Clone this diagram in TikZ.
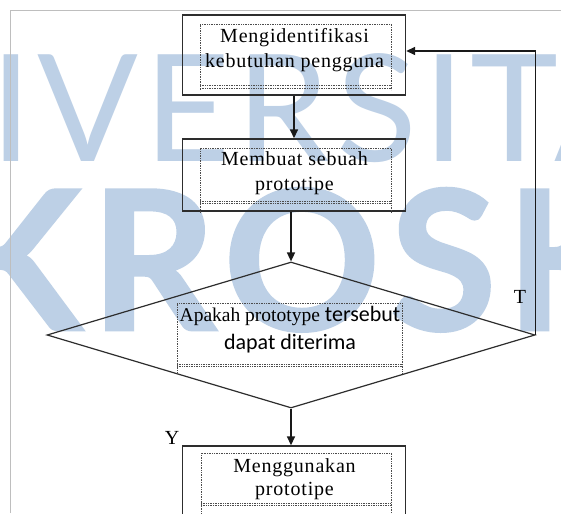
\documentclass[tikz,border=0pt]{standalone}
\usepackage{fontspec}
\setmainfont{Liberation Serif}[LetterSpace=4]
\newfontfamily\calibrifont{Carlito}
\newfontfamily\serifplain{Liberation Serif}
\newfontfamily\wmfont{Lato}[LetterSpace=4]
\newfontfamily\wmfontheavy{Lato}[LetterSpace=5, FakeBold=1.5]
\usetikzlibrary{arrows.meta,shapes.geometric}

\definecolor{wmblue}{RGB}{189,208,230}
\definecolor{linegray}{RGB}{45,45,45}
\definecolor{framegray}{RGB}{190,190,190}

\tikzset{
  stepbox/.style={draw=linegray, line width=1.4pt, rectangle, inner sep=0pt},
  decision/.style={draw=linegray, line width=1.2pt, diamond, inner sep=0pt,
    minimum width=488pt, minimum height=146pt},
  boxtext/.style={inner sep=0pt, align=center, font=\fontsize{20}{25}\selectfont},
  flow/.style={draw=black!90, line width=1.5pt, -{Triangle[length=9pt,width=8pt]}},
  innerframe/.style={draw=black!70, line width=0.7pt, densely dotted},
  branch/.style={inner sep=0pt, font=\serifplain\fontsize{20}{20}\selectfont},
  watermark/.style={inner sep=0pt, text=wmblue, anchor=base west},
}

\begin{document}
\begin{tikzpicture}[x=1pt, y=-1pt]
  \useasboundingbox (0,0) rectangle (561,513);
  \clip (0,0) rectangle (561,513);
  \fill[white] (0,0) rectangle (561,513);

  % background watermark
  \node[watermark, font=\wmfont\fontsize{149}{149}\selectfont] (wm1) at (-10,161) {\llap{UN}IVERSITAS};
  \node[watermark, font=\wmfontheavy\bfseries\fontsize{194}{194}\selectfont] (wm2) at (-52,330) {\llap{MI}KROSKIL};

  % page frame
  \draw[framegray, line width=0.8pt] (10.7,513) -- (10.7,10.7) -- (561,10.7);

  % process boxes and decision
  \node[stepbox, minimum width=223pt, minimum height=80pt] (b1) at (294,55) {};
  \node[stepbox, minimum width=223pt, minimum height=72pt] (b2) at (294,175) {};
  \node[decision] (d) at (291,335) {};
  \node[stepbox, minimum width=223pt, minimum height=90pt] (b4) at (294,491) {};

  % dotted text frames
  \draw[innerframe] (200,90) -- (200,24) -- (391,24) -- (391,90);
  \draw[innerframe] (200,85) -- (391,85);
  \draw[innerframe] (200,88) -- (391,88);

  \draw[innerframe] (200,213) -- (200,148) -- (391,148) -- (391,213);
  \draw[innerframe] (200,201) -- (391,201);
  \draw[innerframe] (200,203.5) -- (391,203.5);

  \draw[innerframe] (177,374) -- (177,303) -- (402,303) -- (402,374);
  \draw[innerframe] (177,364) -- (402,364);
  \draw[innerframe] (177,366.5) -- (402,366.5);

  \draw[innerframe] (201,515) -- (201,453) -- (391,453) -- (391,515);
  \draw[innerframe] (201,503) -- (391,503);
  \draw[innerframe] (201,505.5) -- (391,505.5);

  % texts
  \node[boxtext] (t1) at (294.5,50) {Mengidentifikasi\\kebutuhan pengguna};
  \node[boxtext] (t2) at (294.5,173) {Membuat sebuah\\prototipe};
  \node[inner sep=0pt, align=center, font=\calibrifont\fontsize{22}{28}\selectfont] (t3) at (290,330)
    {{\serifplain\fontsize{19.5}{28}\selectfont Apakah prototype} tersebut\\dapat diterima};
  \node[boxtext, font=\fontsize{20}{23}\selectfont] (t4) at (294.5,479) {Menggunakan\\prototipe};

  % connectors
  \draw[flow] (b1.south) -- (b2.north);
  \draw[flow] (b2.south -| d.north) -- (d.north);
  \draw[flow] (d.south) -- (d.south |- b4.north);
  \draw[flow] (d.east) |- ([yshift=4pt]b1.east);

  % branch labels
  \node[branch] (lt) at (520,297) {T};
  \node[branch] (ly) at (172,438) {Y};
\end{tikzpicture}
\end{document}
